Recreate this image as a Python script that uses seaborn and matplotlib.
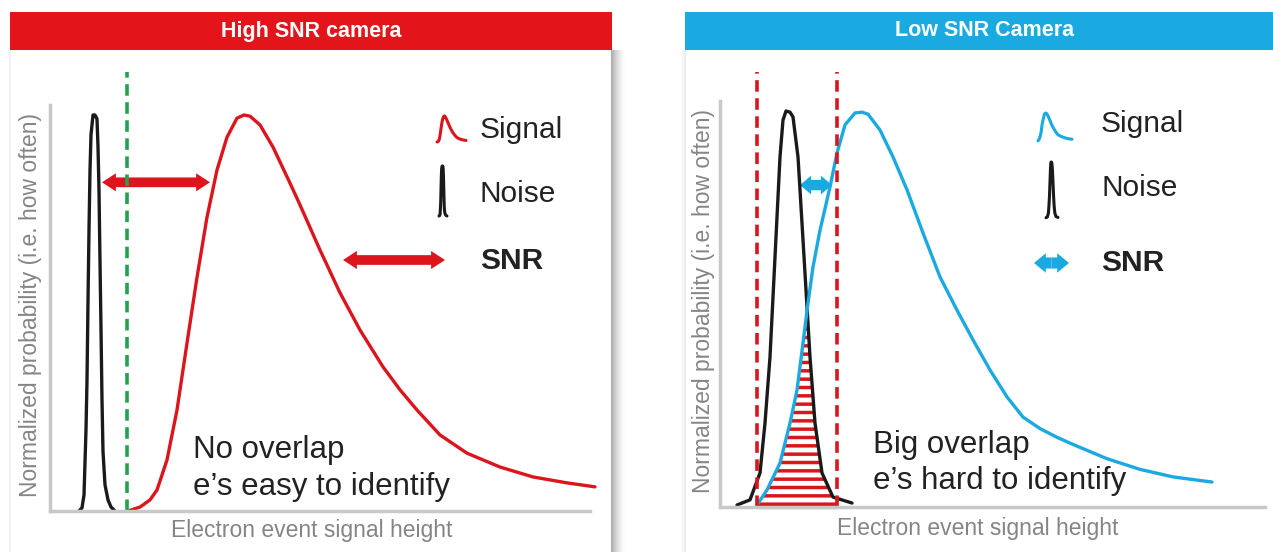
import numpy as np
import seaborn as sns
import matplotlib.pyplot as plt
from matplotlib.patches import Rectangle, FancyArrowPatch

# ---- data (x: signal height units, y: normalized probability) ----
# High SNR camera
hi_noise_x = [5.8, 6.4, 6.8, 7.2, 7.4, 7.6, 7.8, 8.0, 8.2, 8.6, 9.0, 9.4, 9.6, 9.8,
              10.0, 10.2, 10.4, 10.6, 11.0, 11.6, 12.2, 13.0]
hi_noise_y = [0.0, 0.008, 0.04, 0.205, 0.33, 0.53, 0.71, 0.86, 0.95, 1.0, 1.0, 0.99, 0.92, 0.81,
              0.63, 0.46, 0.28, 0.15, 0.066, 0.028, 0.01, 0.0]
hi_signal_x = [15.6, 18.0, 20.0, 21.4, 23.4, 25.4, 27.4, 29.4, 31.4, 33.4, 35.4, 37.4, 38.8, 40.0,
               42.0, 44.6, 48.0, 50.0, 54.0, 58.0, 62.0, 66.6, 70.0, 73.4, 78.0, 83.4, 90.0,
               96.6, 103.4, 109.0]
hi_signal_y = [0.0, 0.01, 0.028, 0.053, 0.129, 0.255, 0.424, 0.59, 0.742, 0.861, 0.944, 0.992, 1.0, 0.997,
               0.975, 0.919, 0.828, 0.773, 0.659, 0.551, 0.457, 0.364, 0.306, 0.255, 0.192, 0.146, 0.111,
               0.086, 0.071, 0.061]
hi_threshold = 15.4
hi_snr = (10.4, 32.0, 0.83)

# Low SNR camera
lo_noise_x = [3.4, 6.0, 8.0, 9.0, 10.0, 11.0, 12.0, 12.6, 13.2, 14.0, 14.6, 15.6, 16.4, 17.2,
              18.0, 19.0, 20.4, 22.6, 26.4]
lo_noise_y = [0.005, 0.018, 0.086, 0.212, 0.379, 0.631, 0.884, 0.977, 1.0, 0.997, 0.985, 0.884, 0.717, 0.548,
              0.379, 0.212, 0.086, 0.025, 0.01]
lo_signal_x = [7.4, 9.4, 12.0, 14.0, 15.4, 16.6, 17.6, 18.6, 20.0, 22.0, 23.4, 25.0, 27.0, 28.4,
               29.6, 32.0, 34.6, 37.4, 40.6, 44.0, 47.4, 50.6, 54.0, 57.4, 60.6, 64.0, 67.4,
               70.6, 77.4, 84.0, 90.6, 98.4]
lo_signal_y = [0.005, 0.043, 0.111, 0.212, 0.295, 0.414, 0.515, 0.606, 0.699, 0.808, 0.894, 0.965, 0.995, 0.997,
               0.992, 0.952, 0.884, 0.801, 0.692, 0.581, 0.497, 0.422, 0.346, 0.278, 0.227, 0.198, 0.176,
               0.158, 0.122, 0.095, 0.076, 0.063]
lo_window = (7.4, 23.4)
lo_snr = (16.0, 22.4, 0.813)

RED = '#dc141c'
HEAD_RED = '#e3151b'
BLUE = '#1ba9e1'
GREEN = '#22a24c'
GRAY = '#c8c8c8'
LABEL = '#858585'
TXT = '#222222'

sns.set_theme(style='white')
plt.rcParams['font.family'] = ['Liberation Sans', 'DejaVu Sans']
plt.rcParams['hatch.linewidth'] = 2.5

W, H = 1273, 552
fig = plt.figure(figsize=(W / 100, H / 100), dpi=100)
fig.patch.set_facecolor('white')


def fx(px):
    return px / W


def fy(py):
    return 1 - py / H


def box(left, top, right, bottom):
    return [fx(left), fy(bottom), (right - left) / W, (bottom - top) / H]


def fat_arrow(x0, x1, y, color, scale, tail=0.7, hw=1.3, hl=1.0, transform=None, target=None):
    mid = (x0 + x1) / 2
    style = f'simple,head_length={hl},head_width={hw},tail_width={tail}'
    for end in (x0, x1):
        p = FancyArrowPatch((mid, y), (end, y), arrowstyle=style, mutation_scale=scale,
                            color=color, lw=0, shrinkA=0, shrinkB=0, transform=transform)
        target.add_artist(p)


# shadows / panel edges
for i in range(14):
    fig.add_artist(Rectangle((fx(611 + i), fy(552)), 1 / W, (552 - 50) / H,
                             transform=fig.transFigure, color='black', lw=0,
                             alpha=0.32 * (1 - i / 14) ** 1.5))
for i in range(5):
    fig.add_artist(Rectangle((fx(681 + i), fy(552)), 1 / W, (552 - 50) / H,
                             transform=fig.transFigure, color='black', lw=0, alpha=0.015 * (i + 1)))
fig.add_artist(Rectangle((fx(9), fy(552)), 2 / W, (552 - 50) / H,
                         transform=fig.transFigure, color='black', lw=0, alpha=0.05))

# header bars
fig.add_artist(Rectangle((fx(10), fy(50)), (612 - 10) / W, 38 / H, transform=fig.transFigure,
                         color=HEAD_RED, lw=0))
fig.add_artist(Rectangle((fx(685), fy(50)), (1273 - 685) / W, 38 / H, transform=fig.transFigure,
                         color=BLUE, lw=0))
fig.text(fx(311), fy(31), 'High SNR camera', color='white', fontsize=15.5, fontweight='bold',
         ha='center', va='center')
fig.text(fx(985), fy(31), 'Low SNR Camera', color='white', fontsize=15.5, fontweight='bold',
         ha='center', va='center')


def style_axes(ax, ytop, xspine, yspine):
    ax.set_xlim(0, 110)
    ax.set_ylim(0, ytop)
    ax.set_xticks([])
    ax.set_yticks([])
    ax.set_facecolor('none')
    sns.despine(ax=ax)
    for s in ('left', 'bottom'):
        ax.spines[s].set_color(GRAY)
        ax.spines[s].set_linewidth(2.5)
    ax.spines['bottom'].set_bounds(0, xspine)
    ax.spines['left'].set_bounds(0, yspine)


# ---------------- left panel: high SNR ----------------
axL = fig.add_axes(box(50, 60, 600, 511))
style_axes(axL, (511 - 60) / 396, 108, 1.025)
sns.lineplot(x=hi_noise_x, y=hi_noise_y, ax=axL, color='#1a1a1a', lw=2.4, sort=False,
             estimator=None, clip_on=False)
sns.lineplot(x=hi_signal_x, y=hi_signal_y, ax=axL, color=RED, lw=2.4, sort=False,
             estimator=None, clip_on=False)
axL.axvline(hi_threshold, ymin=0, ymax=1.109 / ((511 - 60) / 396), color=GREEN, lw=2.6,
            ls=(0, (3.2, 1.8)))
fat_arrow(hi_snr[0], hi_snr[1], hi_snr[2], RED, 10, transform=axL.transData, target=axL)

# ---------------- right panel: low SNR ----------------
axR = fig.add_axes(box(720, 60, 1270, 507))
style_axes(axR, (507 - 60) / 396, 109, 1.025)
xg = np.linspace(lo_window[0], lo_window[1], 300)
overlap = np.minimum(np.interp(xg, lo_signal_x, lo_signal_y), np.interp(xg, lo_noise_x, lo_noise_y))
axR.fill_between(xg, 0, overlap, facecolor='none', edgecolor=RED, hatch='--', lw=0)
sns.lineplot(x=lo_noise_x, y=lo_noise_y, ax=axR, color='#1a1a1a', lw=2.4, sort=False,
             estimator=None, clip_on=False)
sns.lineplot(x=lo_signal_x, y=lo_signal_y, ax=axR, color=BLUE, lw=2.4, sort=False,
             estimator=None, clip_on=False)
for xv in lo_window:
    axR.axvline(xv, ymin=0, ymax=1.098 / ((507 - 60) / 396), color=RED, lw=2.6,
                ls=(0, (3.2, 1.8)))
axR.plot(lo_window, [0, 0], color=RED, lw=3, clip_on=False, solid_capstyle='butt')
fat_arrow(lo_snr[0], lo_snr[1], lo_snr[2], BLUE, 10, tail=0.75, hw=1.35, hl=0.8,
          transform=axR.transData, target=axR)

# ---------------- legends (icons reuse the curves) ----------------
def icon(rect, xs, ys, color):
    a = fig.add_axes(box(*rect))
    sns.lineplot(x=xs, y=ys, ax=a, color=color, lw=2.2, sort=False, estimator=None, clip_on=False)
    a.set_xlim(min(xs), max(xs))
    a.set_ylim(0, 1)
    a.axis('off')


icon((437, 116, 466, 142), hi_signal_x, hi_signal_y, RED)
icon((439, 166, 447, 216), hi_noise_x, hi_noise_y, '#1a1a1a')
icon((1038, 113, 1072, 141), lo_signal_x, lo_signal_y, BLUE)
icon((1046, 162, 1058, 218), lo_noise_x, lo_noise_y, '#1a1a1a')

fat_arrow(fx(343), fx(445), fy(260), RED, 10, transform=fig.transFigure, target=fig)
fat_arrow(fx(1034), fx(1069), fy(263), BLUE, 10, tail=0.8, hw=1.4, hl=0.85,
          transform=fig.transFigure, target=fig)

for xl, ys in ((480, (130, 194, 261)), (1101, (124, 188, 263))):
    fig.text(fx(xl), fy(ys[0]), 'Signal', fontsize=21.5, color=TXT, va='center')
    fig.text(fx(xl), fy(ys[1]), 'Noise', fontsize=21.5, color=TXT, va='center')
    fig.text(fx(xl), fy(ys[2]), 'SNR', fontsize=21.5, color=TXT, va='center', fontweight='bold')

# annotations
fig.text(fx(193), fy(458), 'No overlap', fontsize=22.5, color=TXT, va='baseline')
fig.text(fx(193), fy(495), 'e\u2019s easy to identify', fontsize=22.5, color=TXT, va='baseline')
fig.text(fx(873), fy(453), 'Big overlap', fontsize=22.5, color=TXT, va='baseline')
fig.text(fx(873), fy(489), 'e\u2019s hard to identify', fontsize=22.5, color=TXT, va='baseline')

# axis labels
for xc, yc, xlc, ylc in ((31, 305, 312, 530), (704, 301, 978, 528)):
    fig.text(fx(xc), fy(yc), 'Normalized probability (i.e. how often)', rotation=90,
             fontsize=16.5, color=LABEL, ha='center', va='center')
    fig.text(fx(xlc), fy(ylc), 'Electron event signal height', fontsize=16.5, color=LABEL,
             ha='center', va='center')

fig.savefig('out.png', dpi=100, facecolor='white')
